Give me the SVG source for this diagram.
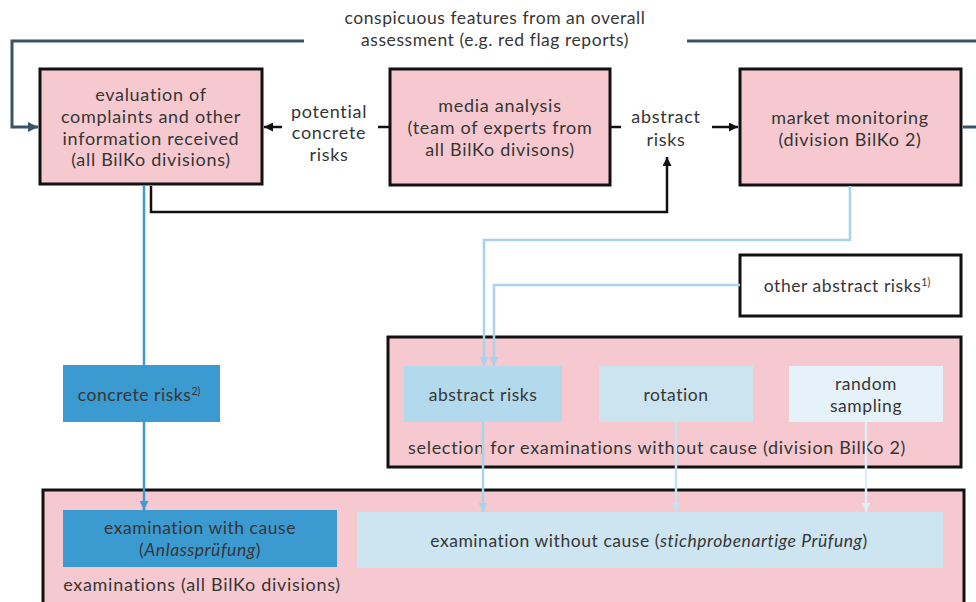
<svg xmlns="http://www.w3.org/2000/svg" width="976" height="602" viewBox="0 0 976 602">
<style>
text{font-family:Lato,"Open Sans",sans-serif;font-size:17.5px;letter-spacing:0.55px;fill:#363636;text-anchor:middle}
.big{font-size:18px;letter-spacing:0.7px}
.l{text-anchor:start}
.box{fill:#f5c9cf;stroke:#111;stroke-width:3}
.wbox{fill:#fff;stroke:#111;stroke-width:3}
.c{fill:none;stroke-width:2.5}
.k{stroke:#111}
.s{stroke:#3b5366;stroke-width:3}
.b{stroke:#3d9ad2}
.lb{stroke:#a9d3ea}
.lb2{stroke:#c7e1ef}
.lb3{stroke:#deedf6}
.sup{font-size:10.5px;letter-spacing:0}
</style>
<defs>
<marker id="ak" markerUnits="userSpaceOnUse" viewBox="0 0 10 10" refX="10" refY="5" markerWidth="9" markerHeight="9" orient="auto"><path d="M0,0L10,5L0,10z" fill="#111"/></marker>
<marker id="as" markerUnits="userSpaceOnUse" viewBox="0 0 10 10" refX="10" refY="5" markerWidth="10" markerHeight="10" orient="auto"><path d="M0,0L10,5L0,10z" fill="#3b5366"/></marker>
<marker id="ab" markerUnits="userSpaceOnUse" viewBox="0 0 10 10" refX="10" refY="5" markerWidth="9" markerHeight="9" orient="auto"><path d="M0,0L10,5L0,10z" fill="#3d9ad2"/></marker>
<marker id="alb" markerUnits="userSpaceOnUse" viewBox="0 0 10 10" refX="10" refY="5" markerWidth="9" markerHeight="9" orient="auto"><path d="M0,0L10,5L0,10z" fill="#a9d3ea"/></marker>
<marker id="alb2" markerUnits="userSpaceOnUse" viewBox="0 0 10 10" refX="10" refY="5" markerWidth="9" markerHeight="9" orient="auto"><path d="M0,0L10,5L0,10z" fill="#c7e1ef"/></marker>
<marker id="alb3" markerUnits="userSpaceOnUse" viewBox="0 0 10 10" refX="10" refY="5" markerWidth="9" markerHeight="9" orient="auto"><path d="M0,0L10,5L0,10z" fill="#deedf6"/></marker>
</defs>

<g id="top-label">
<text x="495" y="24">conspicuous features from an overall</text>
<text x="495" y="46">assessment (e.g. red flag reports)</text>
</g>

<g id="evaluation">
<rect class="box" x="40" y="69" width="222" height="115"/>
<text class="big" x="151" y="101">evaluation of</text>
<text class="big" x="151" y="123">complaints and other</text>
<text class="big" x="151" y="145">information received</text>
<text class="big" x="151" y="166">(all BilKo divisions)</text>
</g>

<g id="media">
<rect class="box" x="390" y="69" width="220" height="116"/>
<text class="big" x="500" y="112">media analysis</text>
<text class="big" x="500" y="134">(team of experts from</text>
<text class="big" x="500" y="156">all BilKo divisons)</text>
</g>

<g id="market">
<rect class="box" x="740" y="69" width="221" height="116"/>
<text class="big" x="850" y="124">market monitoring</text>
<text class="big" x="850" y="146">(division BilKo 2)</text>
</g>

<g id="label-potential">
<text class="big" x="329" y="118">potential</text>
<text class="big" x="329" y="139">concrete</text>
<text class="big" x="329" y="161">risks</text>
</g>

<g id="label-abstract">
<text class="big" x="666" y="123">abstract</text>
<text class="big" x="666" y="146">risks</text>
</g>

<g id="other-abstract">
<rect class="wbox" x="740" y="255" width="221" height="61"/>
<text x="847" y="292">other abstract risks<tspan class="sup" dy="-6">1)</tspan></text>
</g>

<g id="concrete-risks">
<rect x="63" y="365" width="157" height="57" fill="#3b9ad0"/>
<text x="139" y="401">concrete risks<tspan class="sup" dy="-6">2)</tspan></text>
</g>

<g id="selection">
<rect class="box" x="388" y="337" width="573" height="130"/>
<text class="big l" x="408" y="454">selection for examinations without cause (division BilKo 2)</text>
</g>

<g id="sel-abstract">
<rect x="404" y="366" width="158" height="56" fill="#b3d9ec"/>
<text x="483" y="401">abstract risks</text>
</g>

<g id="sel-rotation">
<rect x="599" y="366" width="154" height="56" fill="#cce3f0"/>
<text x="676" y="401">rotation</text>
</g>

<g id="sel-random">
<rect x="789" y="366" width="154" height="56" fill="#e6f2f9"/>
<text x="866" y="390">random</text>
<text x="866" y="412">sampling</text>
</g>

<g id="examinations">
<rect class="box" x="43" y="490" width="921" height="130"/>
<text class="big" x="202" y="591">examinations (all BilKo divisions)</text>
</g>

<g id="exam-with">
<rect x="63" y="510" width="274" height="57" fill="#3b9ad0"/>
<text x="200" y="534">examination with cause</text>
<text x="200" y="556">(<tspan font-style="italic">Anlassprüfung</tspan>)</text>
</g>

<g id="exam-without">
<rect x="357" y="512" width="586" height="56" fill="#cde4f1"/>
<text x="649" y="547">examination without cause (<tspan font-style="italic">stichprobenartige Prüfung</tspan>)</text>
</g>

<g id="connectors">
<path class="c s" d="M304,41H12V127H38" marker-end="url(#as)"/>
<path class="c s" d="M687,41H976"/>
<path class="c s" d="M963,127H976"/>
<path class="c k" d="M390,127H378"/>
<path class="c k" d="M282,127H264" marker-end="url(#ak)"/>
<path class="c k" d="M610,127H621"/>
<path class="c k" d="M712,127H738" marker-end="url(#ak)"/>
<path class="c k" d="M151,186V212H667V157" marker-end="url(#ak)"/>
<path class="c b" d="M144,186V365"/>
<path class="c b" d="M144,422V510" marker-end="url(#ab)"/>
<path class="c lb" d="M850,186V240H484V366" marker-end="url(#alb)"/>
<path class="c lb" d="M740,285H494V366" marker-end="url(#alb)"/>
<path class="c lb" d="M483,422V512" marker-end="url(#alb)"/>
<path class="c lb2" d="M676,422V512" marker-end="url(#alb2)"/>
<path class="c lb3" d="M866,422V512" marker-end="url(#alb3)"/>
</g>
</svg>
